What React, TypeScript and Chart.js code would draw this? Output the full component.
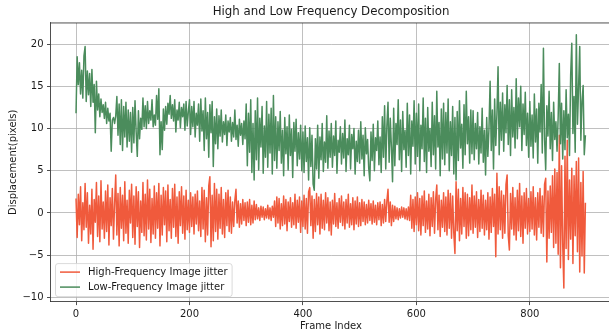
import React, { useEffect, useRef } from "react";
import { Chart, registerables } from "chart.js";

Chart.register(...registerables);

// ---------- data (one value every FRAME_STEP frames) ----------
const FRAME_STEP = 2;

const HIGH_FREQ: number[] = [
  // 0-48
  1.7, -2.9, 2.2, -1.4, 3.1, -3.3, 1.2, -2.0, 3.5, -1.7, 2.4, -3.6, 0.9, -2.5, 2.8, -4.3, 1.6, -1.1, 3.6, -2.8, 2.0, -3.4, 3.8, -1.9, 1.3,
  // 50-98
  -3.0, 2.6, -2.2, 3.3, -3.8, 1.8, -1.5, 2.9, -3.1, 1.1, 4.5, -2.6, 2.3, -3.9, 3.0, -1.8, 2.1, -3.3, 3.7, -2.4, 1.5, -3.6, 2.7, -1.2, 3.4,
  // 100-148
  -2.9, 2.0, -3.7, 3.1, -1.6, 2.5, -4.1, 1.4, -2.3, 3.6, -2.7, 2.2, -3.2, 3.9, -1.9, 2.8, -3.5, 1.7, -2.5, 3.2, -3.0, 2.4, -1.8, 3.5, -3.9,
  // 150-198
  2.1, -2.6, 3.0, -1.4, 2.6, -3.4, 3.3, -2.1, 1.6, -3.0, 2.9, -1.7, 3.4, -2.8, 1.9, -3.6, 2.5, -1.5, 3.1, -2.4, 2.0, -3.1, 2.7, -2.0, 1.5,
  // 200-248
  -2.3, 2.4, -1.6, 1.9, -2.5, 2.2, -1.3, 2.6, -2.1, 1.4, -2.8, 3.0, -1.9, 2.7, -3.4, 1.8, -2.6, 3.2, 4.3, -4.0, 2.1, -3.3, 3.5, -2.2, 2.8,
  // 250-298
  -3.1, 2.2, -1.8, 3.0, -2.5, 1.6, -2.9, 2.4, -1.5, 2.7, -2.2, 1.9, -2.4, 1.3, -1.6, 1.5, 2.8, -1.2, 1.4, -1.7, 1.1, -1.3, 1.6, -0.9, 1.2,
  // 300-348
  -1.5, 1.3, -1.1, 1.6, -1.4, 0.9, -1.2, 1.4, -0.8, 1.0, -0.7, 0.6, -0.9, 0.8, -0.5, 0.7, -0.8, 0.5, -0.6, 0.9, -0.7, 0.6, -0.9, 0.8, -0.5,
  // 350-398
  1.4, -1.6, 1.9, -1.2, 1.7, -1.9, 1.1, -1.5, 2.0, -1.3, 1.6, -2.1, 1.3, -1.0, 1.8, -1.7, 1.2, -1.4, 2.2, -1.8, 1.5, -1.1, 1.9, -2.3, 1.4,
  // 400-448
  -1.6, 2.1, -1.9, 1.7, -2.4, 2.5, 3.0, -1.5, 2.0, -3.0, 1.6, -2.2, 2.3, -1.4, 1.9, -2.5, 2.2, -1.8, 1.5, -2.0, 2.4, -1.2, 1.8, -2.1, 1.3,
  // 450-498
  -2.6, 1.5, -1.3, 2.3, -1.6, 1.2, -1.8, 1.7, -1.1, 2.0, -1.5, 1.3, -1.9, 1.6, -1.2, 2.2, -1.7, 1.1, -1.4, 1.8, -2.0, 1.4, -1.3, 1.9, -1.6,
  // 500-548
  1.2, -1.5, 1.6, -1.0, 1.3, -1.4, 1.0, -1.2, 1.5, -0.9, 1.1, -1.3, 1.4, -1.1, 0.9, -1.4, 1.2, -0.8, 1.3, -1.5, 1.0, -1.2, 1.6, -1.0, 1.4,
  // 550-598
  2.8, -1.1, 1.3, -1.5, 0.9, -1.0, 0.8, -0.7, 0.6, -0.8, 0.5, -0.6, 0.7, -0.5, 0.6, -0.7, 0.5, -0.8, 0.7, -0.9, 2.1, -1.8, 1.6, -2.2, 1.9,
  // 600-648
  -1.4, 2.4, -2.1, 1.7, -2.6, 2.0, -1.5, 2.6, -2.3, 1.4, -1.9, 2.2, -2.7, 1.8, -1.6, 2.5, -2.4, 1.6, 3.3, -2.0, 2.1, -2.8, 1.5, -1.7, 2.4,
  // 650-698
  -2.2, 1.9, -2.6, 2.7, -1.8, 2.3, -3.0, 2.0, -2.4, -4.8, 3.7, -2.1, 2.8, -3.3, 1.7, -2.5, 3.0, -1.6, 2.4, -3.0, 2.2, -2.7, 1.8, -2.0, 3.3,
  // 700-748
  -2.4, 2.0, -1.7, 2.5, -2.9, 1.6, -2.2, 2.7, -1.8, 2.1, -2.6, 1.5, -2.0, 2.4, -3.1, 1.9, -2.3, 2.9, -1.6, 2.2, -5.2, 4.7, -2.5, 3.1, -2.0,
  // 750-798
  2.6, -3.0, 2.1, -2.4, 3.4, 4.5, -2.7, -4.4, 2.3, -1.9, 3.0, -2.6, 1.8, -3.2, 2.7, -2.1, 3.5, -2.8, 2.0, -3.6, 2.4, -1.8, 2.9, -2.5, 1.7,
  // 800-848
  -2.2, 2.5, -1.9, 3.1, -2.6, 1.8, -3.2, 2.4, -1.7, 2.9, -2.4, 2.0, -2.8, 3.4, 4.1, -5.8, 2.6, -3.0, 3.2, -2.3, 4.4, -4.1, 5.2, -3.6, 4.8,
  // 850-898
  -4.9, 9.2, -6.5, 5.6, -3.8, -8.9, 6.7, -4.2, 8.6, -5.5, 3.9, -3.1, 5.3, -6.0, 4.4, -2.7, 6.1, -4.6, 6.5, -7.0, 3.6, -5.1, 4.9, -7.1, 1.2,
];

const LOW_FREQ: number[] = [
  // 0-48
  11.8, 18.5, 15.2, 17.8, 14.1, 16.9, 13.6, 18.6, 19.7, 13.2, 16.8, 14.0, 16.5, 12.6, 17.0, 13.1, 15.2, 9.5, 15.6, 12.2, 14.1, 11.4, 13.5, 11.9, 12.8,
  // 50-98
  11.2, 13.1, 10.6, 12.4, 10.9, 11.8, 7.3, 11.0, 11.3, 10.6, 11.5, 13.8, 9.2, 12.9, 8.1, 13.4, 7.4, 12.6, 9.0, 13.1, 7.8, 12.2, 8.5, 11.9, 7.2,
  // 100-148
  12.5, 8.3, 13.3, 9.6, 6.7, 12.1, 8.8, 11.2, 9.9, 13.6, 10.2, 12.7, 10.0, 13.2, 10.6, 12.1, 11.0, 13.4, 10.2, 11.6, 10.4, 13.9, 11.1, 14.7, 6.9,
  // 150-198
  10.8, 7.5, 12.3, 9.8, 12.6, 10.5, 13.0, 11.7, 13.9, 11.2, 12.8, 10.9, 13.4, 9.6, 12.2, 11.0, 13.1, 10.1, 12.5, 11.4, 12.9, 9.8, 13.2, 10.3, 12.0,
  // 200-248
  13.4, 9.3, 12.6, 10.2, 13.2, 9.0, 11.8, 10.4, 12.9, 8.5, 13.5, 9.7, 12.1, 7.4, 13.6, 8.8, 11.9, 6.6, 12.8, 9.5, 13.2, 5.5, 11.4, 8.2, 12.3,
  // 250-298
  7.6, 11.5, 9.1, 12.2, 8.4, 10.8, 9.3, 11.6, 8.0, 10.9, 9.6, 11.3, 8.5, 10.7, 9.0, 12.2, 8.7, 10.4, 7.9, 11.1, 9.2, 10.6, 8.1, 10.9, 8.8,
  // 300-348
  12.9, 5.6, 11.8, 7.2, 13.4, 4.8, 10.6, 3.9, 12.1, 6.3, 13.6, 5.1, 11.2, 7.8, 12.6, 4.7, 10.3, 6.6, 13.2, 5.4, 11.7, 7.1, 12.4, 4.6, 13.9,
  // 350-398
  6.2, 11.4, 5.3, 10.8, 7.4, 12.0, 5.9, 9.8, 4.4, 11.3, 7.0, 10.2, 5.1, 11.6, 6.8, 9.9, 4.2, 10.7, 7.3, 11.1, 5.6, 9.5, 6.4, 10.4, 5.0,
  // 400-448
  9.6, 4.8, 10.3, 6.1, 8.9, 3.9, 10.1, 5.5, 9.2, 3.4, 2.7, 8.8, 5.2, 10.4, 4.1, 9.0, 6.3, 10.6, 4.9, 8.4, 6.0, 11.5, 5.3, 9.7, 6.6,
  // 450-498
  10.6, 5.4, 9.1, 6.8, 10.9, 4.7, 8.6, 7.2, 10.2, 5.8, 9.4, 6.5, 11.0, 4.9, 8.8, 6.9, 10.4, 5.2, 9.3, 7.6, 10.0, 4.6, 8.5, 6.1, 9.8,
  // 500-548
  5.9, 10.8, 6.4, 9.2, 4.4, 10.1, 7.0, 8.7, 5.3, 3.8, 9.6, 6.2, 10.5, 5.0, 8.9, 7.4, 10.9, 5.7, 9.0, 4.8, 11.4, 6.6, 12.7, 5.2, 10.3,
  // 550-598
  13.1, 6.0, 11.2, 7.8, 3.7, 12.4, 5.6, 10.6, 8.1, 13.4, 6.3, 11.0, 4.9, 12.0, 7.5, 9.8, 5.4, 13.0, 6.8, 11.6, 4.6, 10.9, 7.9, 13.3, 5.8,
  // 600-648
  11.8, 6.7, 12.9, 5.0, 10.4, 7.6, 13.6, 6.1, 11.2, 4.8, 12.5, 7.3, 10.0, 5.5, 13.1, 6.9, 11.5, 5.2, 14.4, 7.8, 10.7, 4.4, 12.3, 6.4, 13.0,
  // 650-698
  5.7, 11.9, 7.1, 13.5, 5.0, 10.8, 6.8, 12.6, 4.6, 11.3, 3.9, 12.0, 6.2, 13.3, 7.7, 10.5, 5.3, 12.8, 6.9, 14.4, 8.2, 11.4, 5.9, 12.2, 7.0,
  // 700-748
  12.1, 6.3, 10.6, 7.6, 11.9, 5.8, 10.2, 7.1, 12.4, 6.0, 9.8, 4.5, 11.3, 6.7, 10.0, 15.6, 7.4, 12.2, 5.2, 13.5, 8.0, 11.7, 17.3, 6.9, 13.1,
  // 750-798
  8.6, 14.2, 7.3, 12.8, 9.5, 15.1, 8.1, 13.4, 6.8, 14.6, 9.0, 12.5, 7.7, 15.9, 8.8, 13.6, 10.2, 15.0, 7.4, 12.9, 9.3, 14.3, 8.0, 11.8, 6.6,
  // 800-848
  13.2, 7.9, 11.6, 6.5, 14.1, 8.4, 12.3, 5.9, 13.0, 9.6, 15.2, 7.1, 19.5, 8.8, 5.1, 12.7, 9.1, 14.4, 7.6, 11.9, 6.2, 13.1, 8.7, 10.8, 7.3,
  // 850-898
  11.4, 17.7, 8.2, 13.0, 6.4, 12.1, 7.5, 14.6, 8.9, 11.7, 6.8, 16.3, 20.1, 9.4, 13.8, 7.2, 21.1, 10.5, 14.9, 19.7, 8.6, 13.2, 15.1, 6.9, 9.2,
];

const FRAMES: number[] = HIGH_FREQ.map((_, i) => i * FRAME_STEP);

const X_TICKS = [0, 200, 400, 600, 800];
const Y_TICKS = [-10, -5, 0, 5, 10, 15, 20];
const X_RANGE = [-45, 944];
const Y_RANGE = [-10.5, 22.5];

const TITLE = "High and Low Frequency Decomposition";
const X_LABEL = "Frame Index";
const Y_LABEL = "Displacement(pixels)";
const HIGH_LABEL = "High-Frequency Image jitter";
const LOW_LABEL = "Low-Frequency Image jitter";

const RED = "#f05a3c";
const GREEN = "#4b8c5c";
const FONT = "'DejaVu Sans', sans-serif";
const FS = 10;

// top spine + matplotlib-style legend
const decorPlugin = {
  id: "decor",
  afterDraw(chart: any) {
    const { ctx, chartArea } = chart;
    const { left, right, top, bottom } = chartArea;
    ctx.save();
    // top spine
    ctx.strokeStyle = "#222";
    ctx.lineWidth = 0.8;
    ctx.beginPath();
    ctx.moveTo(left, top);
    ctx.lineTo(right, top);
    ctx.stroke();

    // legend (lower left)
    const ds = chart.data.datasets;
    ctx.font = `${FS}px ${FONT}`;
    let maxW = 0;
    ds.forEach((d: any) => {
      maxW = Math.max(maxW, ctx.measureText(d.label).width);
    });
    const bx = left + 5;
    const rowH = 15;
    const bh = 33;
    const by = bottom - 5 - bh;
    const bw = 32.5 + maxW + 4.5;
    const r = 2.5;
    ctx.beginPath();
    ctx.moveTo(bx + r, by);
    ctx.lineTo(bx + bw - r, by);
    ctx.arcTo(bx + bw, by, bx + bw, by + r, r);
    ctx.lineTo(bx + bw, by + bh - r);
    ctx.arcTo(bx + bw, by + bh, bx + bw - r, by + bh, r);
    ctx.lineTo(bx + r, by + bh);
    ctx.arcTo(bx, by + bh, bx, by + bh - r, r);
    ctx.lineTo(bx, by + r);
    ctx.arcTo(bx, by, bx + r, by, r);
    ctx.closePath();
    ctx.fillStyle = "rgba(255,255,255,0.8)";
    ctx.fill();
    ctx.strokeStyle = "#d0d0d0";
    ctx.lineWidth = 0.8;
    ctx.stroke();

    ds.forEach((d: any, i: number) => {
      const y = by + 8.5 + i * rowH;
      ctx.strokeStyle = d.borderColor;
      ctx.lineWidth = 1.5;
      ctx.beginPath();
      ctx.moveTo(bx + 4.5, y);
      ctx.lineTo(bx + 24.5, y);
      ctx.stroke();
      ctx.fillStyle = "#1a1a1a";
      ctx.textBaseline = "middle";
      ctx.textAlign = "left";
      ctx.fillText(d.label, bx + 32.5, y + 0.5);
    });
    ctx.restore();
  },
};

export default function App() {
  const ref = useRef<HTMLCanvasElement>(null);

  useEffect(() => {
    if (!ref.current) return;
    const chart = new Chart(ref.current, {
      type: "line",
      data: {
        datasets: [
          {
            label: HIGH_LABEL,
            data: FRAMES.map((f, i) => ({ x: f, y: HIGH_FREQ[i] })),
            borderColor: RED,
            backgroundColor: RED,
            borderWidth: 1.5,
            pointRadius: 0,
            tension: 0,
            borderJoinStyle: "round",
            order: 2,
          },
          {
            label: LOW_LABEL,
            data: FRAMES.map((f, i) => ({ x: f, y: LOW_FREQ[i] })),
            borderColor: GREEN,
            backgroundColor: GREEN,
            borderWidth: 1.5,
            pointRadius: 0,
            tension: 0,
            borderJoinStyle: "round",
            order: 1,
          },
        ],
      },
      options: {
        animation: false,
        responsive: false,
        devicePixelRatio: 1,
        layout: { padding: { left: 0, right: 28.5, top: 0, bottom: 0 } },
        plugins: {
          legend: { display: false },
          tooltip: { enabled: false },
          title: {
            display: true,
            text: TITLE,
            fullSize: false,
            color: "#1a1a1a",
            font: { family: FONT, size: 11.8, weight: "normal", lineHeight: 1.2 },
            padding: { top: 5.2, bottom: 3.6 },
          },
        },
        scales: {
          x: {
            type: "linear",
            min: X_RANGE[0],
            max: X_RANGE[1],
            afterFit: (s: any) => {
              s.height = 32.4;
            },
            afterBuildTicks: (s: any) => {
              s.ticks = X_TICKS.map((v) => ({ value: v }));
            },
            grid: {
              color: "#b0b0b0",
              lineWidth: 0.8,
              drawTicks: true,
              tickLength: 3.5,
              tickColor: "#222",
              tickWidth: 0.8,
            },
            border: { display: true, color: "#222", width: 0.8 },
            ticks: {
              color: "#1a1a1a",
              font: { family: FONT, size: FS },
              padding: 3,
              maxRotation: 0,
              autoSkip: false,
            },
            title: {
              display: true,
              text: X_LABEL,
              color: "#1a1a1a",
              font: { family: FONT, size: FS, lineHeight: 1.2 },
              padding: { top: 0, bottom: 1.5 },
            },
          },
          y: {
            type: "linear",
            min: Y_RANGE[0],
            max: Y_RANGE[1],
            afterFit: (s: any) => {
              s.width = 50.5;
            },
            afterBuildTicks: (s: any) => {
              s.ticks = Y_TICKS.map((v) => ({ value: v }));
            },
            grid: {
              color: "#b0b0b0",
              lineWidth: 0.8,
              drawTicks: true,
              tickLength: 3.5,
              tickColor: "#222",
              tickWidth: 0.8,
            },
            border: { display: true, color: "#222", width: 0.8 },
            ticks: {
              color: "#1a1a1a",
              font: { family: FONT, size: FS },
              padding: 3.5,
              autoSkip: false,
              callback: (v: any) => String(v).replace("-", "\u2212"),
            },
            title: {
              display: true,
              text: Y_LABEL,
              color: "#1a1a1a",
              font: { family: FONT, size: FS, lineHeight: 1.2 },
              padding: { top: 7.3, bottom: 0 },
            },
          },
        },
      },
      plugins: [decorPlugin],
    } as any);
    return () => chart.destroy();
  }, []);

  return (
    <div
      style={{
        position: "fixed",
        left: 0,
        top: 0,
        width: 609,
        height: 334,
        overflow: "hidden",
        background: "#fff",
      }}
    >
      <canvas ref={ref} width={640} height={334} style={{ width: 640, height: 334, display: "block" }} />
    </div>
  );
}
